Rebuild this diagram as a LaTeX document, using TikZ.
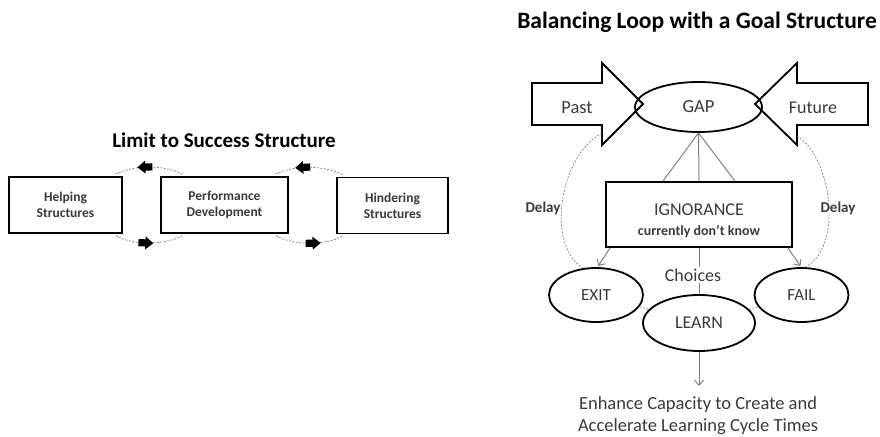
\documentclass[tikz,border=0pt]{standalone}
\usepackage{fontspec}
\setmainfont{Carlito}
\usetikzlibrary{arrows.meta,shapes.geometric,calc}
\definecolor{txt}{HTML}{3A3A3A}
\definecolor{thin}{HTML}{808080}
\begin{document}
\begin{tikzpicture}[x=1pt,y=-1pt,
  title/.style={font=\bfseries\fontsize{23.5}{28}\selectfont, text=black},
  sbox/.style={draw=black, line width=1.7pt, fill=white, align=center, inner sep=0pt,
    text=txt, font=\bfseries\fontsize{13.5}{16}\selectfont},
  oval/.style={ellipse, draw=black, line width=1.8pt, inner sep=0pt, text=txt,
    font=\fontsize{17}{20}\selectfont},
  lbl/.style={text=txt, inner sep=1pt},
  arcline/.style={draw=thin, line width=0.7pt, dash pattern=on 2pt off 1.5pt},
  greyline/.style={draw=thin, line width=1pt},
  greyarrow/.style={draw=thin, line width=1pt, -{Straight Barb[length=5pt,width=9pt]}},
  blockarrow/.pic={\fill[black] (-7,-3.6) rectangle (1,3.6);
                   \fill[black] (8,0) -- (0,-6.5) -- (0,6.5) -- cycle;}
]
\useasboundingbox (0,0) rectangle (880,436);

% ---------- Limit to Success Structure ----------
\node[title, font=\bfseries\fontsize{21}{25}\selectfont] (lt) at (224,140) {Limit to Success Structure};
\node[sbox, minimum width=113, minimum height=56] (help) at (65.5,205) {Helping\\Structures};
\node[sbox, minimum width=127, minimum height=56] (perf) at (224.5,205) {Performance\\Development};
\node[sbox, minimum width=111, minimum height=56] (hind) at (392.5,205.5) {Hindering\\Structures};

% feedback arcs with block arrows
\draw[arcline] ($(help.north east)+(-7,-2)$) .. controls +(18,-9.5) and +(-18,-9.5) .. ($(perf.north west)+(22,-2)$)
  pic[pos=0.45, sloped, xscale=-1] {blockarrow};
\draw[arcline] ($(help.south east)+(-7,2)$) .. controls +(18,9.5) and +(-18,9.5) .. ($(perf.south west)+(22,2)$)
  pic[pos=0.45, sloped] {blockarrow};
\draw[arcline] ($(perf.north east)+(-13,-2)$) .. controls +(18,-9.5) and +(-18,-9.5) .. ($(hind.north west)+(6,-2)$)
  pic[pos=0.42, sloped, xscale=-1] {blockarrow};
\draw[arcline] ($(perf.south east)+(-13,2)$) .. controls +(18,9.5) and +(-18,9.5) .. ($(hind.south west)+(6,2)$)
  pic[pos=0.55, sloped] {blockarrow};

% ---------- Balancing Loop with a Goal Structure ----------
\node[title] (rt) at (697,22) {Balancing Loop with a Goal Structure};

\node[oval, minimum width=127, minimum height=50, font=\fontsize{18.5}{20}\selectfont] (gap) at (698.5,107) {GAP};

% Past and Future block arrows
\draw[black, line width=1.8pt, line join=miter]
  (532,83) -- (602,83) -- (602,63) -- (643,104) -- (602,145) -- (602,125) -- (532,125) -- cycle;
\draw[black, line width=1.8pt, line join=miter]
  (868,83) -- (797,83) -- (797,63) -- (755,104) -- (797,145) -- (797,125) -- (868,125) -- cycle;
\node[lbl, font=\fontsize{18.5}{20}\selectfont] (past) at (577,107.5) {Past};
\node[lbl, font=\fontsize{18}{20}\selectfont] (future) at (813,107.5) {Future};
\coordinate (pastfoot) at (602,133);
\coordinate (futfoot) at (797,136);

\node[draw=black, line width=1.8pt, minimum width=186, minimum height=65, inner sep=0pt] (ign) at (699,214.5) {};
\node[align=center, text=txt, inner sep=0pt, font=\fontsize{18}{20}\selectfont] (igntext) at (699,220.5)
  {IGNORANCE\\{\bfseries\fontsize{14}{20}\selectfont currently don’t know}};

\draw[greyline] (gap.south) -- ($(ign.north)+(-36,0)$);
\draw[greyline] (gap.south) -- (ign.north);
\draw[greyline] (gap.south) -- ($(ign.north)+(36,0)$);

\node[oval, minimum width=94, minimum height=54] (exit) at (596,295) {EXIT};
\node[oval, minimum width=94, minimum height=54] (fail) at (801.5,295) {FAIL};
\node[oval, minimum width=112, minimum height=56, font=\fontsize{18}{20}\selectfont] (learn) at (699,323) {LEARN};

\draw[greyline] (ign.south) -- (learn.north);
\node[lbl, fill=white, inner sep=2pt, font=\fontsize{18}{20}\selectfont] (choices) at (693,275) {Choices};

\draw[greyarrow] ($(ign.south west)+(5,0)$) -- ($(exit.north)+(2,-1)$);
\draw[greyarrow] ($(ign.south east)+(-5,0)$) -- ($(fail.north)+(-1,-1)$);

\draw[arcline] (exit) -- (learn);
\draw[arcline] (learn) -- (fail);

% delayed feedback arcs
\draw[arcline] (pastfoot) .. controls (560,155) and (545,245) .. ($(exit.north)+(-13,1)$);
\draw[arcline] (futfoot) .. controls (830,155) and (845,245) .. ($(fail.north)+(4,0)$);
\node[lbl, fill=white, font=\bfseries\fontsize{15}{16}\selectfont] (d1) at (543,208) {Delay};
\node[lbl, fill=white, font=\bfseries\fontsize{15}{16}\selectfont] (d2) at (838,208) {Delay};

\coordinate (out) at (699,386);
\draw[greyarrow] (learn.south) -- (out);
\node[lbl, align=center, font=\fontsize{18.5}{22}\selectfont] (enh) at (698,416)
  {Enhance Capacity to Create and\\Accelerate Learning Cycle Times};
\end{tikzpicture}
\end{document}
